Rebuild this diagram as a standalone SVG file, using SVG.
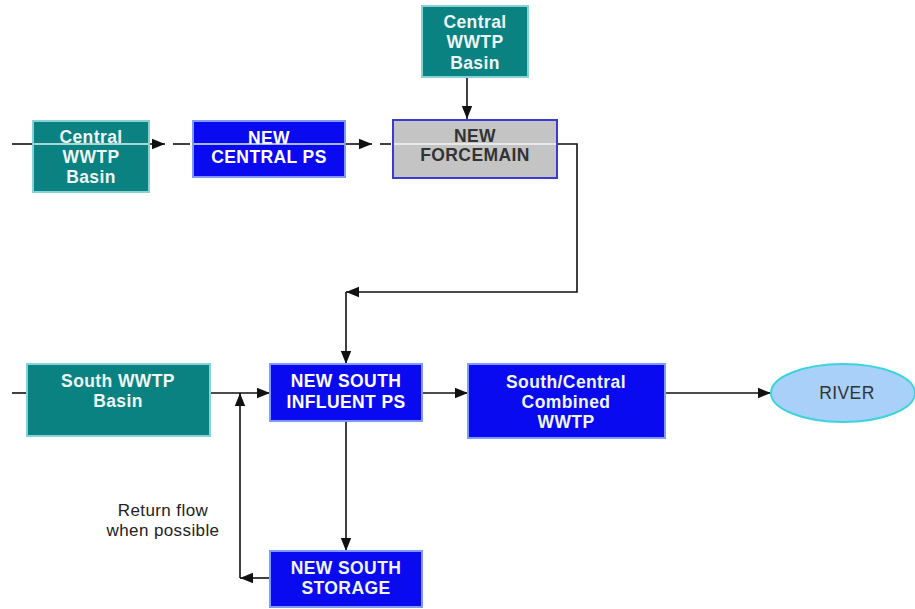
<svg xmlns="http://www.w3.org/2000/svg" width="915" height="609" viewBox="0 0 915 609">
<style>
.teal{fill:#0b8282;stroke:#86d2d6;stroke-width:2}
.blue{fill:#0a0af0;stroke:#7f99ff;stroke-width:2}
.gray{fill:#c4c4c4;stroke:#3b3bd0;stroke-width:2}
.river{fill:#a8d0f8;stroke:#3cd4dc;stroke-width:2}
.t{font-family:"Liberation Sans",Arial,sans-serif;font-weight:bold;font-size:17.5px;letter-spacing:0.4px;text-anchor:middle}
.w{fill:#eef6f6}
.wb{fill:#ffffff}
.d{fill:#333333}
.lab{font-family:"Liberation Sans",Arial,sans-serif;font-size:17px;letter-spacing:0.4px;text-anchor:middle;fill:#222222}
.c{fill:none;stroke:#111111;stroke-width:1.6}
.hl{stroke:#dff2f2;stroke-width:1.5}
</style>
<defs>
<marker id="ah2" viewBox="0 0 10 10" refX="10" refY="5" markerWidth="13" markerHeight="13" markerUnits="userSpaceOnUse" orient="auto">
<path d="M0,1 L10,5 L0,9 z" fill="#111111"/>
</marker>
</defs>
<rect width="915" height="609" fill="#ffffff"/>

<g id="connectors">
<line class="c" x1="12" y1="144" x2="33" y2="144"/>
<line class="c" x1="149" y1="144" x2="165" y2="144" marker-end="url(#ah2)"/>
<line class="c" x1="173" y1="144" x2="190" y2="144"/>
<line class="c" x1="345" y1="144" x2="372" y2="144" marker-end="url(#ah2)"/>
<line class="c" x1="380" y1="144" x2="391" y2="144"/>
<line class="c" x1="467" y1="77" x2="467" y2="119" marker-end="url(#ah2)"/>
<polyline class="c" points="557,144 577,144 577,292 346,292" marker-end="url(#ah2)"/>
<line class="c" x1="346" y1="292" x2="346" y2="364" marker-end="url(#ah2)"/>
<line class="c" x1="12" y1="393" x2="27" y2="393"/>
<line class="c" x1="210" y1="393" x2="270" y2="393" marker-end="url(#ah2)"/>
<line class="c" x1="422" y1="393" x2="468" y2="393" marker-end="url(#ah2)"/>
<line class="c" x1="665" y1="393" x2="771" y2="393" marker-end="url(#ah2)"/>
<line class="c" x1="346" y1="421" x2="346" y2="551" marker-end="url(#ah2)"/>
<polyline class="c" points="240,578 240,393" marker-end="url(#ah2)"/>
<line class="c" x1="270" y1="578" x2="240" y2="578" marker-end="url(#ah2)"/>
</g>

<g id="central-basin-left">
<rect class="teal" x="33" y="121" width="116" height="71"/>
<text class="t w" x="91" y="143">Central</text>
<text class="t w" x="91" y="163">WWTP</text>
<text class="t w" x="91" y="183">Basin</text>
<line class="hl" x1="34" y1="144" x2="148" y2="144"/>
</g>

<g id="new-central-ps">
<rect class="blue" x="193" y="121" width="152" height="56"/>
<text class="t wb" x="269" y="144">NEW</text>
<text class="t wb" x="269" y="163">CENTRAL PS</text>
<line class="hl" x1="194" y1="144" x2="344" y2="144"/>
</g>

<g id="central-basin-top">
<rect class="teal" x="422" y="6" width="106" height="71"/>
<text class="t w" x="475" y="28">Central</text>
<text class="t w" x="475" y="48">WWTP</text>
<text class="t w" x="475" y="69">Basin</text>
</g>

<g id="new-forcemain">
<rect class="gray" x="393" y="120" width="164" height="58"/>
<text class="t d" x="475" y="142">NEW</text>
<text class="t d" x="475" y="161">FORCEMAIN</text>
<line x1="394" y1="144" x2="556" y2="144" stroke="#f4f4f4" stroke-width="1.5"/>
</g>

<g id="south-basin">
<rect class="teal" x="27" y="364" width="183" height="72"/>
<text class="t w" x="118" y="387">South WWTP</text>
<text class="t w" x="118" y="407">Basin</text>
</g>

<g id="new-south-influent-ps">
<rect class="blue" x="270" y="364" width="152" height="57"/>
<text class="t wb" x="346" y="387">NEW SOUTH</text>
<text class="t wb" x="346" y="408">INFLUENT PS</text>
</g>

<g id="combined-wwtp">
<rect class="blue" x="468" y="364" width="197" height="74"/>
<text class="t w" x="566" y="388">South/Central</text>
<text class="t w" x="566" y="408">Combined</text>
<text class="t w" x="566" y="428">WWTP</text>
</g>

<g id="river">
<ellipse class="river" cx="843" cy="393" rx="72" ry="29"/>
<text class="t d" x="847" y="399" style="font-weight:normal">RIVER</text>
</g>

<g id="new-south-storage">
<rect class="blue" x="270" y="551" width="152" height="56"/>
<text class="t w" x="346" y="574">NEW SOUTH</text>
<text class="t w" x="346" y="594">STORAGE</text>
</g>

<g id="return-label">
<text class="lab" x="163" y="516">Return flow</text>
<text class="lab" x="163" y="536">when possible</text>
</g>
</svg>
